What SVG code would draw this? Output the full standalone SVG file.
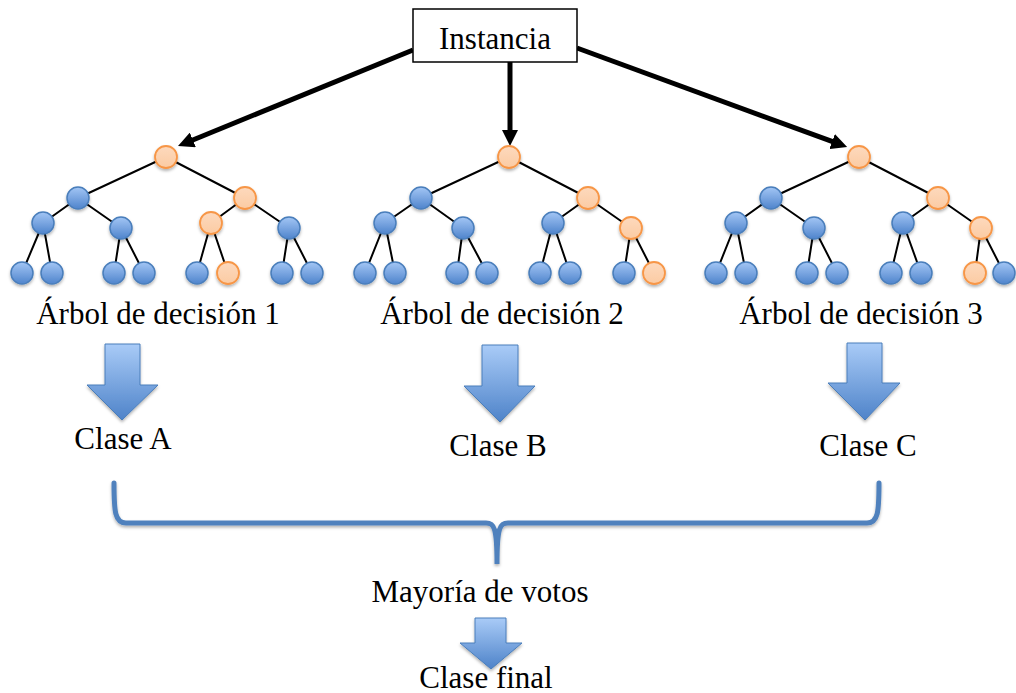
<svg xmlns="http://www.w3.org/2000/svg" width="1016" height="693" viewBox="0 0 1016 693">
<defs>
<linearGradient id="gBlue" x1="0" y1="0" x2="0" y2="1">
<stop offset="0" stop-color="#a3c6f5"/>
<stop offset="1" stop-color="#4f84cc"/>
</linearGradient>
<linearGradient id="gArrow" x1="0" y1="0" x2="0" y2="1">
<stop offset="0" stop-color="#a9cbf7"/>
<stop offset="1" stop-color="#4e83c9"/>
</linearGradient>
<linearGradient id="gOrange" x1="0" y1="0" x2="0" y2="1">
<stop offset="0" stop-color="#fdd9bd"/>
<stop offset="1" stop-color="#fbcba3"/>
</linearGradient>
<filter id="shadow" x="-30%" y="-30%" width="160%" height="170%">
<feDropShadow dx="0" dy="2" stdDeviation="1.5" flood-color="#000" flood-opacity="0.3"/>
</filter>
<marker id="ah" markerUnits="userSpaceOnUse" markerWidth="18" markerHeight="16" refX="2" refY="8" orient="auto">
<path d="M0,0 L16,8 L0,16 Z" fill="#000"/>
</marker>
<style>
.t{font-family:"Liberation Serif","Times New Roman",serif;font-size:31px;fill:#000;text-anchor:middle}
.e{stroke:#000;stroke-width:2;fill:none}
.b{fill:url(#gBlue);stroke:#4a7ebb;stroke-width:1.5;filter:url(#shadow)}
.o{fill:url(#gOrange);stroke:#f79646;stroke-width:1.8;filter:url(#shadow)}
.ba{fill:url(#gArrow);stroke:#4a7ebb;stroke-width:1;filter:url(#shadow)}
.big{stroke:#000;stroke-width:5;fill:none;marker-end:url(#ah)}
</style>
</defs>
<rect width="1016" height="693" fill="#fff"/>

<g id="connectors">
<line class="big" x1="413" y1="50" x2="191" y2="140.7"/>
<line class="big" x1="510" y1="62" x2="510" y2="132"/>
<line class="big" x1="577" y1="48" x2="834" y2="142.2"/>
<g id="edges1">
<path class="e" d="M166,157 L78,198 M166,157 L245,198 M78,198 L43,223 M78,198 L121,228 M245,198 L211,223 M245,198 L289,228 M43,223 L22,273 M43,223 L52,273 M121,228 L114,273 M121,228 L144,273 M211,223 L197,273 M211,223 L228,273 M289,228 L282,273 M289,228 L312,273"/>
</g>
<g id="edges2">
<path class="e" d="M509,157 L421,198 M509,157 L588,198 M421,198 L385,223 M421,198 L463,228 M588,198 L553,223 M588,198 L631,228 M385,223 L365,273 M385,223 L395,273 M463,228 L457,273 M463,228 L487,273 M553,223 L540,273 M553,223 L570,273 M631,228 L624,273 M631,228 L654,273"/>
</g>
<g id="edges3">
<path class="e" d="M859,157 L771,198 M859,157 L938,198 M771,198 L736,223 M771,198 L814,228 M938,198 L903,223 M938,198 L981,228 M736,223 L716,273 M736,223 L746,273 M814,228 L807,273 M814,228 L837,273 M903,223 L891,273 M903,223 L921,273 M981,228 L975,273 M981,228 L1004,273"/>
</g>
<path id="brace" d="M114,483 C114,512 115,523 126,523 L486,523 C494,523 497,527 497,564 C497,527 500,523 508,523 L867,523 C878,523 879,512 879,483" fill="none" stroke="#4f81bd" stroke-width="5" stroke-linecap="round" filter="url(#shadow)"/>
</g>

<g id="instancia">
<rect x="413" y="9" width="164" height="53" fill="#fff" stroke="#000" stroke-width="1.5"/>
<text class="t" x="495" y="49">Instancia</text>
</g>

<g id="tree1">
<circle class="o" cx="166" cy="157" r="11"/>
<circle class="b" cx="78" cy="198" r="11"/>
<circle class="o" cx="245" cy="198" r="11"/>
<circle class="b" cx="43" cy="223" r="11"/>
<circle class="b" cx="121" cy="228" r="11"/>
<circle class="o" cx="211" cy="223" r="11"/>
<circle class="b" cx="289" cy="228" r="11"/>
<circle class="b" cx="22" cy="273" r="11"/>
<circle class="b" cx="52" cy="273" r="11"/>
<circle class="b" cx="114" cy="273" r="11"/>
<circle class="b" cx="144" cy="273" r="11"/>
<circle class="b" cx="197" cy="273" r="11"/>
<circle class="o" cx="228" cy="273" r="11"/>
<circle class="b" cx="282" cy="273" r="11"/>
<circle class="b" cx="312" cy="273" r="11"/>
<text class="t" x="158" y="324">Árbol de decisión 1</text>
</g>

<g id="tree2">
<circle class="o" cx="509" cy="157" r="11"/>
<circle class="b" cx="421" cy="198" r="11"/>
<circle class="o" cx="588" cy="198" r="11"/>
<circle class="b" cx="385" cy="223" r="11"/>
<circle class="b" cx="463" cy="228" r="11"/>
<circle class="b" cx="553" cy="223" r="11"/>
<circle class="o" cx="631" cy="228" r="11"/>
<circle class="b" cx="365" cy="273" r="11"/>
<circle class="b" cx="395" cy="273" r="11"/>
<circle class="b" cx="457" cy="273" r="11"/>
<circle class="b" cx="487" cy="273" r="11"/>
<circle class="b" cx="540" cy="273" r="11"/>
<circle class="b" cx="570" cy="273" r="11"/>
<circle class="b" cx="624" cy="273" r="11"/>
<circle class="o" cx="654" cy="273" r="11"/>
<text class="t" x="502" y="324">Árbol de decisión 2</text>
</g>

<g id="tree3">
<circle class="o" cx="859" cy="157" r="11"/>
<circle class="b" cx="771" cy="198" r="11"/>
<circle class="o" cx="938" cy="198" r="11"/>
<circle class="b" cx="736" cy="223" r="11"/>
<circle class="b" cx="814" cy="228" r="11"/>
<circle class="b" cx="903" cy="223" r="11"/>
<circle class="o" cx="981" cy="228" r="11"/>
<circle class="b" cx="716" cy="273" r="11"/>
<circle class="b" cx="746" cy="273" r="11"/>
<circle class="b" cx="807" cy="273" r="11"/>
<circle class="b" cx="837" cy="273" r="11"/>
<circle class="b" cx="891" cy="273" r="11"/>
<circle class="b" cx="921" cy="273" r="11"/>
<circle class="o" cx="975" cy="273" r="11"/>
<circle class="b" cx="1004" cy="273" r="11"/>
<text class="t" x="861" y="324">Árbol de decisión 3</text>
</g>

<g id="claseA">
<path class="ba" d="M105,344 L140,344 L140,385 L158,385 L122,420 L87,385 L105,385 Z"/>
<text class="t" x="123" y="449">Clase A</text>
</g>
<g id="claseB">
<path class="ba" d="M482,345 L518,345 L518,386 L535,386 L500,422 L464,386 L482,386 Z"/>
<text class="t" x="498" y="456">Clase B</text>
</g>
<g id="claseC">
<path class="ba" d="M847,343 L882,343 L882,383 L900,383 L865,420 L828,383 L847,383 Z"/>
<text class="t" x="868" y="456">Clase C</text>
</g>

<g id="mayoria">
<text class="t" x="480" y="602">Mayoría de votos</text>
</g>
<g id="claseFinal">
<path class="ba" d="M475,618 L506,618 L506,643 L522,643 L491,669 L460,643 L475,643 Z"/>
<text class="t" x="486" y="688">Clase final</text>
</g>
</svg>
